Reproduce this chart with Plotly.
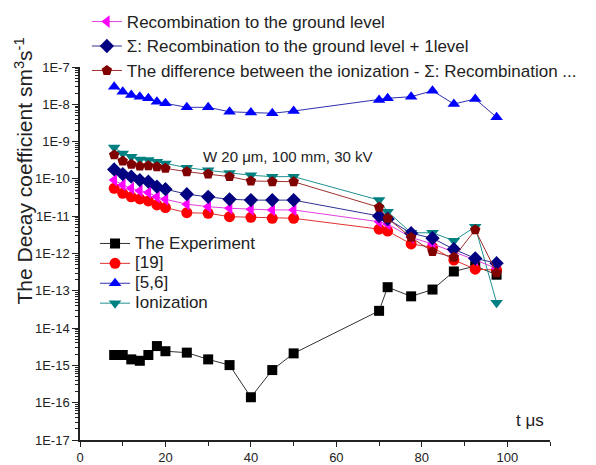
import plotly.graph_objects as go

t = [8, 10, 12, 14, 16, 18, 20, 25, 30, 35, 40, 45, 50, 70, 72, 77.5, 82.5, 87.5, 92.5, 97.5]

experiment = [1.9e-15, 1.9e-15, 1.45e-15, 1.33e-15, 1.9e-15, 3.3e-15, 2.4e-15, 2.2e-15, 1.45e-15, 1.02e-15,
              1.4e-16, 7.5e-16, 2.1e-15, 2.9e-14, 1.25e-13, 7.1e-14, 1.08e-13, 3.3e-13, 4.6e-13, 2.7e-13]
ref19 = [5.6e-11, 4.1e-11, 3.3e-11, 2.9e-11, 2.56e-11, 2.0e-11, 1.7e-11, 1.24e-11, 1.2e-11, 9.7e-12,
         9.35e-12, 8.8e-12, 8.8e-12, 4.5e-12, 4.0e-12, 1.8e-12, 1.47e-12, 6.7e-13, 3.8e-13, 3.6e-13]
ref56 = [2.96e-8, 2.18e-8, 1.78e-8, 1.6e-8, 1.45e-8, 1.17e-8, 1.06e-8, 8.3e-9, 8.3e-9, 6.3e-9,
         6.0e-9, 5.75e-9, 6.6e-9, 1.3e-8, 1.45e-8, 1.6e-8, 2.3e-8, 1.02e-8, 1.39e-8, 4.5e-9]
ionization = [7.0e-10, 4.8e-10, 3.9e-10, 3.3e-10, 3.2e-10, 2.9e-10, 2.6e-10, 2.0e-10, 1.7e-10, 1.45e-10,
              1.25e-10, 1.15e-10, 1.15e-10, 2.7e-11, 1.32e-11, 3.6e-12, 3.6e-12, 2.2e-12, 5.2e-12, 4.8e-14]
recomb_ground = [9.3e-11, 6.9e-11, 5.6e-11, 4.8e-11, 4.3e-11, 3.3e-11, 2.84e-11, 2.1e-11, 1.8e-11, 1.63e-11,
                 1.53e-11, 1.47e-11, 1.47e-11, 7.1e-12, 6.2e-12, 2.7e-12, 1.8e-12, 1.12e-12, 6.7e-13, 4.0e-13]
recomb_sum = [1.8e-10, 1.35e-10, 1.15e-10, 9.3e-11, 8.4e-11, 6.2e-11, 5.3e-11, 3.9e-11, 3.3e-11, 2.84e-11,
              2.7e-11, 2.7e-11, 2.7e-11, 1.01e-11, 8.4e-12, 3.5e-12, 2.56e-12, 1.3e-12, 7.4e-13, 5.5e-13]
difference = [4.4e-10, 3.0e-10, 2.47e-10, 2.2e-10, 2.26e-10, 2.12e-10, 1.92e-10, 1.56e-10, 1.35e-10, 1.15e-10,
              8.8e-11, 8.4e-11, 8.4e-11, 1.73e-11, 8.8e-12, 2.7e-12, 1.12e-12, 7.9e-13, 4.3e-12, 3.05e-13]

ytick_vals = [1e-17, 1e-16, 1e-15, 1e-14, 1e-13, 1e-12, 1e-11, 1e-10, 1e-9, 1e-8, 1e-7]
ytick_text = ["1E-17", "1E-16", "1E-15", "1E-14", "1E-13", "1E-12", "1E-11", "1E-10", "1E-9", "1E-8", "1E-7"]
xtick_vals = [0, 20, 40, 60, 80, 100]

names_top = ["Recombination to the ground level",
             "\u03a3: Recombination to the ground level + 1level",
             "The difference between the ionization - \u03a3: Recombination ..."]
names_bottom = ["The Experiment", "[19]", "[5,6]", "Ionization"]

fig = go.Figure()


def add(y, name, color, lcolor, symbol, legend, group, size=11, fs=17):
    fig.add_trace(go.Scatter(
        x=t, y=y, name=f'<span style="font-size:{fs}px">{name}</span>', mode="lines+markers",
        line=dict(color=lcolor, width=1),
        marker=dict(color=color, symbol=symbol, size=size, line=dict(width=0)),
        legend=legend, legendgroup=group,
    ))


add(experiment, names_bottom[0], "#000000", "#333333", "square", "legend2", "b1", 10)
add(ref19, names_bottom[1], "#FF0000", "#E03030", "circle", "legend2", "b2")
add(ref56, names_bottom[2], "#0000FF", "#3030B0", "triangle-up", "legend2", "b3")
add(ionization, names_bottom[3], "#008080", "#209090", "triangle-down", "legend2", "b4")
add(recomb_ground, names_top[0], "#FF00FF", "#E040E0", "triangle-left", "legend", "t1")
add(recomb_sum, names_top[1], "#000080", "#303090", "diamond", "legend", "t2")
add(difference, names_top[2], "#800000", "#A03030", "pentagon", "legend", "t3")

font = "Liberation Sans, Arial, sans-serif"

# the page body has an 8px margin, so the figure is sized to fill the rest of the window
fig.update_layout(
    width=588, height=457,
    margin=dict(l=72, r=46, t=59, b=25, autoexpand=False),
    paper_bgcolor="white", plot_bgcolor="white",
    font=dict(family=font, color="#222222"),
    legend=dict(x=0.0146, y=1.168, xanchor="left", yanchor="top",
                font=dict(size=16.5, color="#222222"), bgcolor="rgba(0,0,0,0)",
                traceorder="grouped", tracegroupgap=0),
    legend2=dict(x=0.032, y=0.567, xanchor="left", yanchor="top",
                 font=dict(size=13, color="#222222"), bgcolor="rgba(0,0,0,0)",
                 traceorder="grouped", tracegroupgap=0),
    xaxis=dict(range=[0, 110], tickvals=xtick_vals, showgrid=False, zeroline=False,
               showline=True, linecolor="#222222", linewidth=1.5,
               ticks="outside", ticklen=5, tickcolor="#222222",
               minor=dict(dtick=10, ticks="outside", ticklen=4, tickcolor="#222222"),
               tickfont=dict(size=13), automargin=False),
    yaxis=dict(type="log", range=[-17, -7], tickvals=ytick_vals, ticktext=ytick_text,
               showgrid=False, zeroline=False, showline=True, linecolor="#222222", linewidth=1.5,
               ticks="outside", ticklen=6, tickcolor="#222222",
               minor=dict(dtick="D1", ticks="outside", ticklen=3, tickcolor="#222222"),
               tickfont=dict(size=13), automargin=False),
    annotations=[
        dict(text="The Decay coefficient sm<sup>3</sup>s<sup>-1</sup>", textangle=-90,
             x=-0.119, y=0.72, xref="paper", yref="paper", xanchor="center", yanchor="middle",
             showarrow=False, font=dict(size=21, color="#222222")),
        dict(text="W 20 \u03bcm, 100 mm, 30 kV", x=0.257, y=0.759, xref="paper", yref="paper",
             xanchor="left", yanchor="middle", showarrow=False, font=dict(size=15, color="#222222")),
        dict(text="t \u03bcs", x=0.957, y=0.051, xref="paper", yref="paper",
             xanchor="center", yanchor="middle",
             showarrow=False, font=dict(size=17, color="#222222")),
    ],
)

fig.write_html("out.html")
